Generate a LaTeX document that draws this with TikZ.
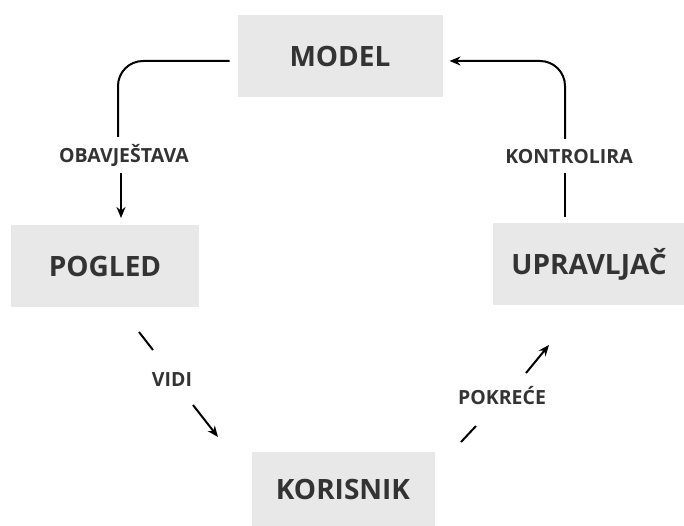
\documentclass[tikz,border=0pt]{standalone}
\usepackage{fontspec}
\setmainfont{Open Sans}
\usetikzlibrary{positioning,calc,arrows.meta}
\definecolor{boxgray}{HTML}{E8E8E8}
\definecolor{txtgray}{HTML}{333333}
\begin{document}
\begin{tikzpicture}[x=1pt,y=-1pt,
  block/.style={fill=boxgray,text=txtgray,font=\fontsize{28}{32}\selectfont\bfseries,inner sep=0pt,outer sep=0pt},
  lbl/.style={text=txtgray,font=\fontsize{19.5}{23}\selectfont\bfseries,inner sep=2pt},
  conn/.style={line width=2pt,-{Stealth[length=11pt,width=9pt]}},
  plain/.style={line width=2pt}]
\useasboundingbox (0,0) rectangle (684,526);
\node[block,minimum width=205pt,minimum height=82pt] (model) at (340,56) {MODEL};
\node[block,minimum width=188pt,minimum height=82pt] (pogled) at (105,266) {POGLED};
\node[block,minimum width=192pt,minimum height=82pt] (upravljac) at (589,264) {UPRAVLJAČ};
\node[block,minimum width=183pt,minimum height=74pt] (korisnik) at (343,489) {KORISNIK};

\node[lbl] (obav) at (124,155) {OBAVJEŠTAVA};
\node[lbl] (kontr) at (569,157) {KONTROLIRA};
\node[lbl] (vidi) at (172,380) {VIDI};
\node[lbl] (pokr) at (502,396) {POKREĆE};

\coordinate (m1) at ($(model.west)+(-8,5)$);
\coordinate (p1) at (121,218);
\coordinate (u1) at (565,217);
\coordinate (m2) at ($(model.east)+(7,5)$);
\coordinate (v1) at (139,332);
\coordinate (v2) at (153,350);
\coordinate (v3) at (193,405);
\coordinate (v4) at (218,437);
\coordinate (k1) at (461,442);
\coordinate (k2) at (476,426);
\coordinate (k3) at (526,373);
\coordinate (k4) at (549,345);

\draw[plain,rounded corners=25pt] (m1) -| (118,137);
\draw[conn] (121,173) -- (p1);
\draw[plain] (u1) -- (565,173);
\draw[conn,rounded corners=25pt] (565,139) |- (m2);
\draw[plain] (v1) -- (v2);
\draw[conn] (v3) -- (v4);
\draw[plain] (k1) -- (k2);
\draw[conn] (k3) -- (k4);
\end{tikzpicture}
\end{document}
